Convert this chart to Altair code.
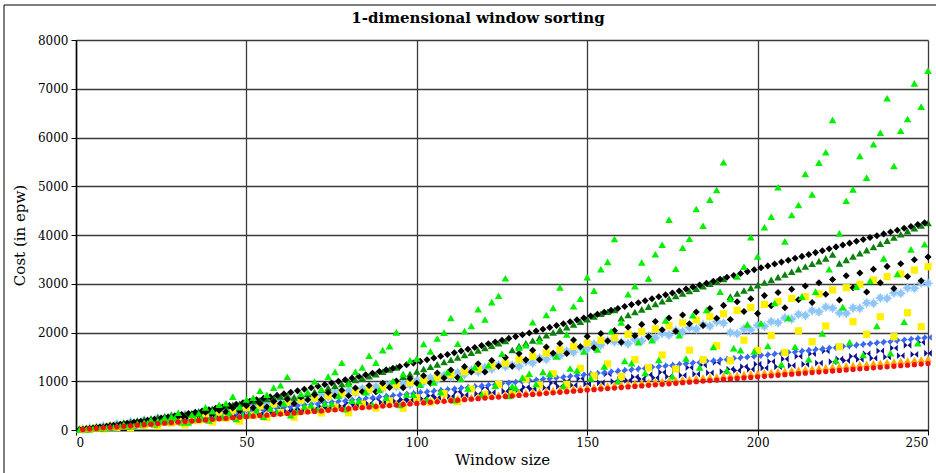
import altair as alt
import pandas as pd

# Window sizes: most series are sampled on even sizes, a few also on odd sizes
WINDOW_EVEN = list(range(2, 251, 2))
WINDOW_ODD = list(range(1, 250, 2))

RED = [
    11, 22, 33, 44, 55, 65, 76, 87, 98, 109,
    120, 131, 142, 153, 164, 174, 185, 196, 207, 218,
    229, 240, 251, 262, 273, 283, 294, 305, 316, 327,
    338, 349, 360, 371, 382, 392, 403, 414, 425, 436,
    447, 458, 469, 480, 491, 501, 512, 523, 534, 545,
    556, 567, 578, 589, 600, 610, 621, 632, 643, 654,
    665, 676, 687, 698, 709, 719, 730, 741, 752, 763,
    774, 785, 796, 807, 818, 828, 839, 850, 861, 872,
    883, 894, 905, 916, 927, 937, 948, 959, 970, 981,
    992, 1003, 1014, 1025, 1036, 1046, 1057, 1068, 1079, 1090,
    1101, 1112, 1123, 1134, 1145, 1155, 1166, 1177, 1188, 1199,
    1210, 1221, 1232, 1243, 1254, 1264, 1275, 1286, 1297, 1308,
    1319, 1330, 1341, 1352, 1363,
]

ORANGE = [
    12, 23, 35, 47, 59, 70, 82, 94, 105, 117,
    129, 140, 152, 164, 176, 187, 199, 211, 222, 234,
    246, 257, 269, 281, 293, 304, 316, 328, 339, 351,
    363, 374, 386, 398, 410, 421, 433, 445, 456, 468,
    480, 491, 503, 515, 527, 538, 550, 562, 573, 585,
    597, 608, 620, 632, 644, 655, 667, 679, 690, 702,
    714, 725, 737, 749, 761, 772, 784, 796, 807, 819,
    831, 842, 854, 866, 878, 889, 901, 913, 924, 936,
    948, 959, 971, 983, 995, 1006, 1018, 1030, 1041, 1053,
    1065, 1076, 1088, 1100, 1112, 1123, 1135, 1147, 1158, 1170,
    1182, 1193, 1205, 1217, 1229, 1240, 1252, 1264, 1275, 1287,
    1299, 1310, 1322, 1334, 1346, 1357, 1369, 1381, 1392, 1404,
    1416, 1427, 1439, 1451, 1463,
]

BLUE = [
    15, 30, 46, 61, 76, 91, 106, 122, 137, 152,
    167, 182, 198, 213, 228, 243, 258, 274, 289, 304,
    319, 334, 350, 365, 380, 395, 410, 426, 441, 456,
    471, 486, 502, 517, 532, 547, 562, 578, 593, 608,
    623, 638, 654, 669, 684, 699, 714, 730, 745, 760,
    775, 790, 806, 821, 836, 851, 866, 882, 897, 912,
    927, 942, 958, 973, 988, 1003, 1018, 1034, 1049, 1064,
    1079, 1094, 1110, 1125, 1140, 1155, 1170, 1186, 1201, 1216,
    1231, 1246, 1262, 1277, 1292, 1307, 1322, 1338, 1353, 1368,
    1383, 1398, 1414, 1429, 1444, 1459, 1474, 1490, 1505, 1520,
    1535, 1550, 1566, 1581, 1596, 1611, 1626, 1642, 1657, 1672,
    1687, 1702, 1718, 1733, 1748, 1763, 1778, 1794, 1809, 1824,
    1839, 1854, 1870, 1885, 1900,
]

NAVY = [
    13, 27, 38, 55, 63, 83, 88, 110, 113, 138,
    139, 166, 164, 193, 189, 208, 214, 239, 239, 270,
    265, 303, 290, 336, 315, 371, 340, 406, 365, 443,
    391, 416, 416, 451, 441, 486, 466, 523, 491, 560,
    517, 599, 542, 638, 567, 679, 592, 624, 617, 663,
    643, 702, 668, 743, 693, 784, 718, 827, 743, 870,
    769, 915, 794, 832, 819, 875, 844, 918, 869, 963,
    895, 1008, 920, 1055, 945, 1102, 970, 1151, 995, 1040,
    1021, 1087, 1046, 1134, 1071, 1183, 1096, 1232, 1121, 1283,
    1147, 1334, 1172, 1387, 1197, 1248, 1222, 1299, 1247, 1350,
    1273, 1403, 1298, 1456, 1323, 1511, 1348, 1566, 1373, 1623,
    1399, 1456, 1424, 1511, 1449, 1566, 1474, 1623, 1499, 1680,
    1525, 1739, 1550, 1798, 1575,
]

LIGHT_BLUE = [
    17, 41, 52, 82, 88, 122, 124, 162, 160, 202,
    194, 243, 232, 281, 270, 315, 304, 354, 343, 392,
    382, 431, 421, 470, 459, 509, 498, 547, 537, 586,
    575, 640, 601, 681, 642, 723, 683, 764, 725, 805,
    766, 847, 807, 888, 849, 929, 890, 960, 927, 1013,
    980, 1067, 1033, 1120, 1087, 1173, 1140, 1227, 1193, 1280,
    1247, 1333, 1300, 1330, 1306, 1402, 1378, 1474, 1450, 1546,
    1522, 1618, 1594, 1690, 1666, 1762, 1738, 1834, 1810, 1800,
    1770, 1860, 1830, 1921, 1891, 1981, 1951, 2041, 2011, 2101,
    2071, 2162, 2132, 2222, 2192, 2000, 1977, 2075, 2052, 2149,
    2127, 2224, 2201, 2299, 2276, 2373, 2351, 2448, 2425, 2523,
    2500, 2400, 2392, 2503, 2495, 2606, 2598, 2709, 2701, 2812,
    2804, 2915, 2907, 3018, 3010,
]

DARK_GREEN = [
    18, 38, 58, 79, 100, 122, 144, 166, 189, 212,
    235, 258, 282, 306, 330, 315, 345, 375, 405, 435,
    462, 489, 515, 540, 565, 590, 614, 638, 662, 686,
    710, 670, 705, 745, 785, 825, 865, 905, 945, 985,
    1025, 1065, 1105, 1145, 1195, 1240, 1285, 1094, 1150, 1200,
    1250, 1298, 1346, 1394, 1442, 1490, 1538, 1586, 1634, 1682,
    1730, 1778, 1826, 1641, 1720, 1780, 1835, 1890, 1945, 2000,
    2055, 2110, 2165, 2220, 2275, 2330, 2385, 2425, 2460, 2291,
    2360, 2420, 2475, 2530, 2585, 2640, 2695, 2750, 2800, 2850,
    2900, 2950, 3000, 3050, 3100, 2735, 2800, 2860, 2915, 2970,
    3025, 3080, 3135, 3190, 3245, 3300, 3355, 3410, 3465, 3520,
    3600, 3418, 3490, 3560, 3625, 3690, 3755, 3820, 3885, 3950,
    4015, 4080, 4140, 4195, 4245,
]

BLACK_ODD = [
    8, 25, 42, 60, 78, 97, 117, 137, 157, 178,
    200, 222, 245, 268, 292, 316, 340, 365, 391, 417,
    444, 472, 500, 529, 558, 588, 618, 648, 679, 710,
    741, 772, 803, 835, 867, 899, 932, 965, 998, 1031,
    1064, 1097, 1131, 1165, 1199, 1233, 1267, 1302, 1337, 1372,
    1407, 1442, 1478, 1514, 1550, 1586, 1622, 1658, 1694, 1731,
    1768, 1805, 1842, 1879, 1916, 1953, 1991, 2029, 2067, 2105,
    2143, 2181, 2220, 2259, 2298, 2337, 2376, 2415, 2454, 2493,
    2532, 2572, 2612, 2652, 2692, 2732, 2772, 2812, 2852, 2892,
    2932, 2972, 3012, 3052, 3092, 3132, 3171, 3210, 3249, 3288,
    3327, 3366, 3405, 3444, 3483, 3522, 3561, 3600, 3639, 3678,
    3717, 3756, 3795, 3833, 3871, 3909, 3947, 3985, 4023, 4061,
    4099, 4137, 4175, 4213, 4251,
]

BLACK_EVEN = [
    16, 28, 49, 53, 85, 89, 122, 114, 160, 156,
    200, 178, 239, 227, 279, 246, 323, 299, 365, 316,
    407, 374, 451, 394, 500, 458, 543, 470, 586, 537,
    632, 544, 677, 619, 721, 623, 770, 699, 815, 704,
    861, 785, 912, 783, 959, 874, 1006, 869, 1058, 960,
    1112, 962, 1171, 1069, 1232, 1075, 1300, 1189, 1357, 1188,
    1427, 1308, 1487, 1306, 1567, 1439, 1635, 1442, 1704, 1575,
    1775, 1570, 1847, 1709, 1920, 1687, 1979, 1825, 2038, 1800,
    2106, 1935, 2166, 1915, 2227, 2055, 2297, 2024, 2359, 2178,
    2421, 2144, 2492, 2294, 2556, 2266, 2629, 2430, 2693, 2390,
    2757, 2550, 2822, 2506, 2888, 2671, 2953, 2614, 3019, 2783,
    3086, 2666, 3164, 2918, 3220, 2830, 3299, 3021, 3356, 2904,
    3412, 3148, 3493, 3063, 3550,
]

YELLOW = [
    14, 16, 44, 22, 76, 53, 109, 43, 144, 96,
    180, 86, 216, 143, 252, 106, 292, 191, 331, 164,
    370, 242, 409, 182, 455, 302, 494, 258, 534, 357,
    577, 262, 617, 415, 658, 349, 703, 471, 745, 352,
    787, 533, 834, 449, 878, 598, 921, 446, 970, 660,
    1020, 567, 1076, 745, 1133, 582, 1197, 841, 1251, 732,
    1318, 936, 1373, 742, 1450, 1043, 1514, 925, 1580, 1155,
    1647, 936, 1716, 1265, 1785, 1110, 1840, 1357, 1896, 1096,
    1960, 1443, 2017, 1277, 2074, 1539, 2140, 1250, 2198, 1638,
    2257, 1444, 2325, 1730, 2385, 1421, 2454, 1842, 2515, 1630,
    2576, 1938, 2637, 1591, 2699, 2035, 2735, 1811, 2790, 2133,
    2872, 1709, 2919, 2222, 2988, 1963, 3077, 2324, 3145, 1914,
    3200, 2406, 3282, 2119, 3350,
]

LIME_EVEN = [
    8, 16, 30, 32, 60, 74, 112, 80, 131, 150,
    207, 185, 250, 274, 354, 176, 313, 338, 464, 384,
    517, 550, 685, 470, 625, 660, 805, 722, 870, 918,
    1091, 384, 739, 775, 994, 835, 1095, 1193, 1381, 944,
    1197, 1285, 1522, 1382, 1638, 1720, 2002, 1152, 1431, 1470,
    1765, 1612, 1876, 1998, 2299, 1770, 2029, 2134, 2478, 2268,
    2623, 2753, 3112, 896, 1690, 1742, 2211, 1822, 2360, 2506,
    2925, 1958, 2540, 2694, 3135, 2858, 3296, 3448, 3918, 2208,
    2786, 2952, 3436, 3108, 3604, 3801, 4315, 3309, 3738, 3924,
    4532, 4191, 4724, 4923, 5491, 2688, 3150, 3350, 3953, 3560,
    4158, 4376, 4978, 3869, 4410, 4615, 5251, 4834, 5484, 5696,
    6359, 4034, 4704, 4936, 5620, 5176, 5860, 6099, 6804, 5415,
    6140, 6380, 7111, 6633, 7371,
]

LIME_ODD = [
    4, 10, 25, 28, 45, 55, 78, 68, 85, 105,
    137, 115, 170, 162, 238, 155, 155, 210, 226, 195,
    250, 258, 338, 226, 304, 311, 403, 275, 439, 366,
    543, 302, 371, 482, 511, 426, 540, 540, 701, 427,
    599, 598, 774, 522, 819, 664, 1004, 513, 728, 723,
    929, 628, 977, 781, 1188, 611, 1051, 851, 1287, 726,
    1331, 910, 1563, 699, 864, 1074, 1157, 945, 1192, 1154,
    1509, 901, 1262, 1220, 1609, 1057, 1652, 1302, 2025, 1002,
    1417, 1369, 1799, 1169, 1842, 1436, 2249, 1103, 1947, 1468,
    2353, 1281, 2461, 1702, 2835, 1222, 1679, 1638, 2167, 1612,
    2191, 1726, 2604, 1346, 2299, 1709, 2735, 1450, 2838, 1983,
    3296, 1427, 2520, 1799, 2940, 1538, 3056, 2133, 3521, 1577,
    3200, 2222, 3706, 1778, 3809,
]

TITLE = "1-dimensional window sorting"

# Marker outlines (unit box -1..1)
BOWTIE = "M-1,-0.9L0,0L-1,0.9Z M1,-0.9L0,0L1,0.9Z"
STAR = ("M0,-1L0.3,-0.45L0.75,-0.75L0.45,-0.3L1,0L0.45,0.3L0.75,0.75L0.3,0.45"
        "L0,1L-0.3,0.45L-0.75,0.75L-0.45,0.3L-1,0L-0.45,-0.3L-0.75,-0.75L-0.3,-0.45Z")

SERIF = "DejaVu Serif"
PLOT_W, PLOT_H = 852, 390

x_enc = alt.X(
    "window:Q",
    scale=alt.Scale(domain=[0, 250], nice=False, zero=False),
    axis=alt.Axis(
        title="Window size", values=[0, 50, 100, 150, 200, 250],
        grid=True, gridColor="#3a3a3a", gridWidth=1.3,
        domainColor="black", domainWidth=1.5, tickColor="black", tickSize=5,
        labelFont=SERIF, labelFontSize=12, labelColor="black", labelPadding=2,
        titleFont=SERIF, titleFontSize=15, titleFontWeight="normal",
        titleColor="black", titlePadding=4,
    ),
)
y_enc = alt.Y(
    "cost:Q",
    scale=alt.Scale(domain=[0, 8000], nice=False),
    axis=alt.Axis(
        title="Cost (in epw)", values=[0, 1000, 2000, 3000, 4000, 5000, 6000, 7000, 8000],
        format="d", grid=True, gridColor="#3a3a3a", gridWidth=1.3,
        domainColor="black", domainWidth=1.5, tickColor="black", tickSize=5,
        labelFont=SERIF, labelFontSize=12, labelColor="black", labelPadding=3,
        titleFont=SERIF, titleFontSize=15, titleFontWeight="normal",
        titleColor="black", titlePadding=10,
    ),
)


def scatter(windows, costs, color, shape, size):
    df = pd.DataFrame({"window": windows, "cost": costs})
    return alt.Chart(df).mark_point(
        filled=True, opacity=1, color=color, shape=shape, size=size, strokeWidth=0
    ).encode(x=x_enc, y=y_enc)


# Drawn bottom to top
layers = [
    scatter(WINDOW_EVEN, NAVY, "#10108a", BOWTIE, 58),
    scatter(WINDOW_EVEN, BLUE, "#3b68f0", BOWTIE, 58),
    scatter(WINDOW_EVEN, LIGHT_BLUE, "#8ec6f7", STAR, 110),
    scatter(WINDOW_EVEN, YELLOW, "#fff000", "square", 52),
    scatter(WINDOW_EVEN, DARK_GREEN, "#0b800b", "triangle-up", 58),
    scatter(WINDOW_ODD, BLACK_ODD, "black", "diamond", 50),
    scatter(WINDOW_EVEN, BLACK_EVEN, "black", "diamond", 50),
    scatter(WINDOW_EVEN, LIME_EVEN, "#00f000", "triangle-up", 58),
    scatter(WINDOW_ODD, LIME_ODD, "#00f000", "triangle-up", 58),
    scatter(WINDOW_EVEN, ORANGE, "#ffaa00", "triangle-up", 55),
    scatter(WINDOW_EVEN, RED, "#f01010", "circle", 28),
]

one_row = pd.DataFrame({"label": [TITLE]})

# Chart heading above the plot area
heading = alt.Chart(one_row).mark_text(
    font=SERIF, fontSize=15, fontWeight="bold", color="black",
    align="center", baseline="middle",
).encode(x=alt.value(402), y=alt.value(-22), text="label:N")

# Thin frame along the top and left edges of the figure
frame_left = alt.Chart(one_row).mark_rule(color="black", strokeWidth=1).encode(
    x=alt.value(-72), y=alt.value(-35), y2=alt.value(433)
)
frame_top = alt.Chart(one_row).mark_rule(color="black", strokeWidth=1).encode(
    x=alt.value(-72), x2=alt.value(860), y=alt.value(-35)
)

chart = alt.layer(*layers, heading, frame_left, frame_top).properties(
    width=PLOT_W,
    height=PLOT_H,
    autosize=alt.AutoSizeParams(type="none"),
    padding={"left": 76, "top": 40, "right": 8, "bottom": 43},
    background="white",
).configure_view(stroke=None)

chart.save("out.html", embed_options={"renderer": "svg", "actions": False})
